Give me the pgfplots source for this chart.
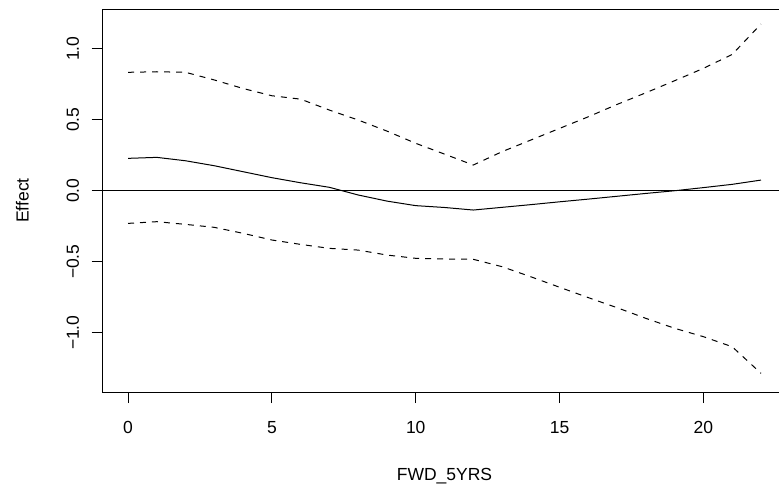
\documentclass[border=0pt]{standalone}
\usepackage{fontspec}
\setmainfont{Liberation Sans}
\usepackage{pgfplots}
\pgfplotsset{compat=1.18}
\usepackage{pgfplotstable}
\pgfplotstableread{
x fit upper lower
0 0.228 0.834 -0.230
1 0.235 0.838 -0.218
2 0.211 0.834 -0.237
3 0.176 0.780 -0.258
4 0.134 0.720 -0.300
5 0.092 0.669 -0.347
6 0.056 0.645 -0.378
7 0.024 0.568 -0.406
8 -0.030 0.498 -0.418
9 -0.073 0.420 -0.453
10 -0.105 0.334 -0.476
11 -0.118 0.258 -0.481
12 -0.136 0.181 -0.483
13 -0.117 0.275 -0.535
14 -0.098 0.357 -0.606
15 -0.078 0.439 -0.680
16 -0.059 0.521 -0.753
17 -0.039 0.608 -0.824
18 -0.019 0.690 -0.899
19 0.000 0.775 -0.969
20 0.022 0.862 -1.028
21 0.045 0.960 -1.099
22 0.075 1.174 -1.286
}\effect
\begin{document}
\fontsize{17.5bp}{21bp}\selectfont
\begin{tikzpicture}
\useasboundingbox (0,0) rectangle (779bp,488bp);
\begin{axis}[
  at={(102.7bp,96bp)}, anchor=south west,
  scale only axis, width=683.6bp, height=383bp,
  xmin=-0.88, xmax=22.88, ymin=-1.4176, ymax=1.28,
  axis line style={line width=0.9bp},
  tick style={line width=0.9bp, black},
  tick align=outside, major tick length=11bp,
  xtick pos=bottom, ytick pos=left,
  xtick={0,5,10,15,20}, xticklabels={0,5,10,15,20},
  ytick={-1,-0.5,0,0.5,1}, yticklabels={−1.0,−0.5,0.0,0.5,1.0},
  xticklabel style={anchor=north, inner sep=0pt},
  xticklabel shift=18.5bp,
  yticklabel style={rotate=90, anchor=south, inner sep=0pt},
  yticklabel shift=12.5bp,
  xlabel={FWD\_5YRS}, ylabel={Effect},
  xlabel style={at={(axis description cs:0.5,-0.1979)}, anchor=north, inner sep=0pt},
  ylabel style={at={(axis description cs:-0.1077,0.5)}, rotate=0, anchor=south, inner sep=0pt},
]
\addplot[black, line width=1bp] coordinates {(-0.88,0) (22.88,0)};
\addplot[black, line width=1bp] table[x=x, y=fit] {\effect};
\addplot[black, line width=1bp, dash pattern=on 6bp off 6bp] table[x=x, y=upper] {\effect};
\addplot[black, line width=1bp, dash pattern=on 6bp off 6bp] table[x=x, y=lower] {\effect};
\end{axis}
\end{tikzpicture}
\end{document}
